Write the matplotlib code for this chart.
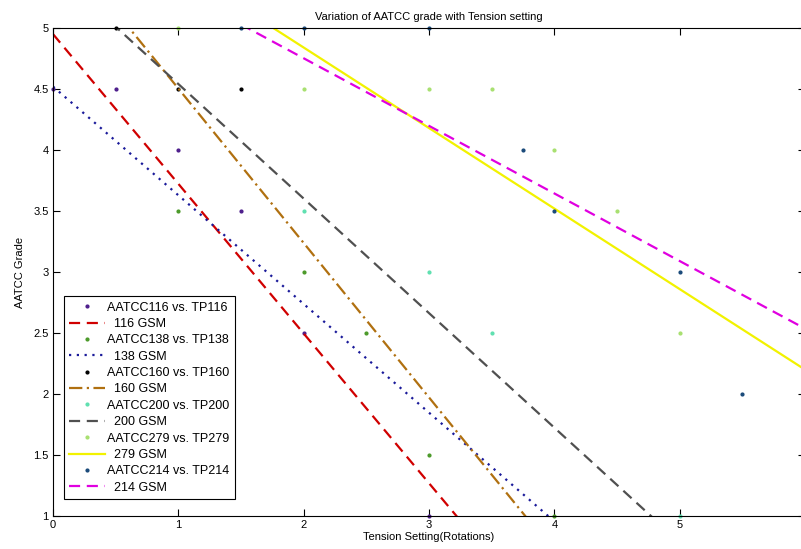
import matplotlib
matplotlib.use("Agg")
import matplotlib.pyplot as plt
import numpy as np

plt.rcParams['font.family'] = ['Liberation Sans', 'DejaVu Sans']

# measured points (tension setting in rotations, AATCC grade)
gsm = ['116', '138', '160', '200', '279', '214']
tension = {
    '116': [0, 0.5, 1, 1.5, 2, 3],
    '138': [1, 2, 2.5, 3, 4],
    '160': [0.5, 1, 1.5],
    '200': [2, 3, 3.5, 5],
    '279': [1, 2, 3, 3.5, 4, 4.5, 5],
    '214': [1.5, 2, 3, 3.75, 4, 5, 5.5],
}
grade = {
    '116': [4.5, 4.5, 4, 3.5, 2.5, 1],
    '138': [3.5, 3, 2.5, 1.5, 1],
    '160': [5, 4.5, 4.5],
    '200': [3.5, 3, 2.5, 1],
    '279': [5, 4.5, 4.5, 4.5, 4, 3.5, 2.5],
    '214': [5, 5, 5, 4, 3.5, 3, 2],
}
# linear fits: slope, intercept
fit_slope = {'116': -1.227, '138': -0.891, '160': -1.266,
             '200': -0.939, '279': -0.660, '214': -0.554}
fit_icept = {'116': 4.95, '138': 4.52, '160': 5.77,
             '200': 5.48, '279': 6.16, '214': 5.86}

point_colors = {'116': '#4e1e8c', '138': '#4c9a2a', '160': '#000000',
                '200': '#5fe0b0', '279': '#a8e070', '214': '#1a4a7a'}
line_colors = {'116': '#d00000', '138': '#1a1a9a', '160': '#b07010',
               '200': '#505050', '279': '#f2f200', '214': '#e000e0'}
line_styles = {'116': (0, (5, 3)), '138': (0, (1, 2.5)), '160': (0, (6, 2, 1, 2)),
               '200': (0, (5, 3)), '279': '-', '214': (0, (5, 3))}

fig = plt.figure(figsize=(8.01, 5.49), dpi=100)
ax = fig.add_axes([53 / 801, 1 - 516 / 549, 752 / 801, 488 / 549])

xs = np.array([0, 6])
for g in gsm:
    ax.plot(tension[g], grade[g], linestyle='none', marker='.', markersize=4,
            color=point_colors[g], label=f'AATCC{g} vs. TP{g}', clip_on=False)
    # matlab leaves the fit labels indented a little
    ax.plot(xs, fit_slope[g] * xs + fit_icept[g], linestyle=line_styles[g],
            color=line_colors[g], linewidth=1.6, label=f'  {g} GSM')

ax.set_xlim(0, 6)
ax.set_ylim(1, 5)
ax.set_xticks([0, 1, 2, 3, 4, 5, 6])
ax.set_xticklabels(['0', '1', '2', '3', '4', '5', ''])
ax.set_yticks([1, 1.5, 2, 2.5, 3, 3.5, 4, 4.5, 5])
ax.set_yticklabels(['1', '1.5', '2', '2.5', '3', '3.5', '4', '4.5', '5'])
ax.tick_params(direction='in', top=True, right=True, length=5, width=0.8,
               labelsize=8, pad=3)
for s in ax.spines.values():
    s.set_linewidth(0.8)

ax.set_title('Variation of AATCC grade with Tension setting', fontsize=8, pad=6)
ax.set_xlabel('Tension Setting(Rotations)', fontsize=8, labelpad=1)
ax.set_ylabel('AATCC Grade', fontsize=8, labelpad=6)

leg = ax.legend(loc='lower left', bbox_to_anchor=(0.0146, 0.035), borderaxespad=0,
                fontsize=9, handlelength=2.9, numpoints=1, fancybox=False,
                edgecolor='black', framealpha=1, labelspacing=0.35,
                borderpad=0.42, handletextpad=0.15)
leg.get_frame().set_linewidth(0.8)

fig.savefig('out.png', dpi=100)
